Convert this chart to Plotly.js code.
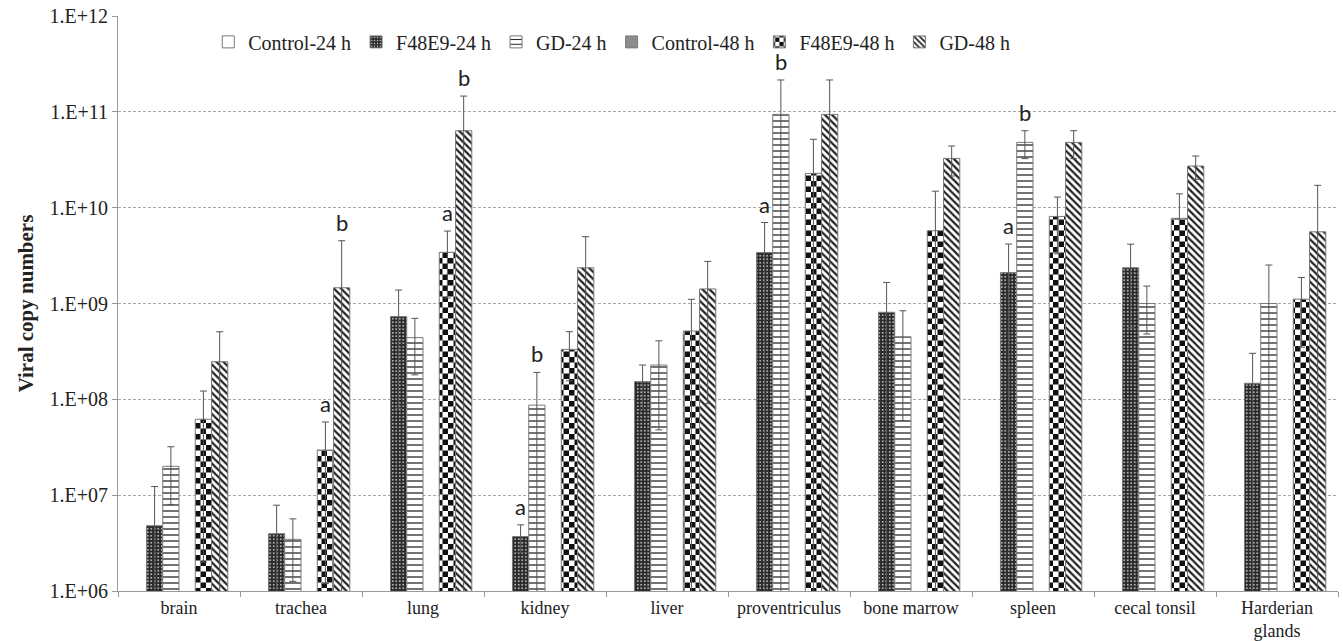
<!DOCTYPE html>
<html><head><meta charset="utf-8">
<script src="https://cdn.plot.ly/plotly-3.0.1.min.js"></script>
<style>html,body{margin:0;padding:0;background:#fff}#chart{width:1343px;height:641px}</style>
</head><body><div id="chart"></div>
<script>
var categories = ['brain','trachea','lung','kidney','liver','proventriculus','bone marrow','spleen','cecal tonsil','Harderian<br>glands'];
var seriesNames = ['Control-24 h','F48E9-24 h','GD-24 h','Control-48 h','F48E9-48 h','GD-48 h'];

var control24 = [null,null,null,null,null,null,null,null,null,null];
var control24Err = [0,0,0,0,0,0,0,0,0,0];
var f48e9_24 = [4.8e6, 3.96e6, 7.3e8, 3.7e6, 1.53e8, 3.4e9, 8.1e8, 2.1e9, 2.36e9, 1.47e8];
var f48e9_24Err = [7.5e6, 3.9e6, 6.5e8, 1.2e6, 7.5e7, 3.6e9, 8.5e8, 2.07e9, 1.8e9, 1.55e8];
var gd24 = [2.0e7, 3.46e6, 4.4e8, 8.7e7, 2.28e8, 9.4e10, 4.5e8, 4.8e10, 1.0e9, 1.0e9];
var gd24Err = [1.2e7, 2.2e6, 2.6e8, 1.04e8, 1.8e8, 1.21e11, 3.9e8, 1.55e10, 5.2e8, 1.52e9];
var control48 = [null,null,null,null,null,null,null,null,null,null];
var control48Err = [0,0,0,0,0,0,0,0,0,0];
var f48e9_48 = [6.2e7, 2.96e7, 3.42e9, 3.32e8, 5.16e8, 2.28e10, 5.75e9, 8.1e9, 7.74e9, 1.11e9];
var f48e9_48Err = [6.0e7, 2.84e7, 2.28e9, 1.76e8, 5.9e8, 2.89e10, 9.1e9, 4.8e9, 6.2e9, 7.6e8];
var gd48 = [2.47e8, 1.46e9, 6.35e10, 2.36e9, 1.42e9, 9.4e10, 3.27e10, 4.8e10, 2.72e10, 5.6e9];
var gd48Err = [2.6e8, 3.06e9, 8.25e10, 2.62e9, 1.33e9, 1.21e11, 1.13e10, 1.55e10, 7.4e9, 1.15e10];

var control24Letters = ['','','','','','','','','',''];
var f48e9_24Letters = ['','','','a','','a','','a','',''];
var gd24Letters = ['','','','b','','b','','b','',''];
var control48Letters = ['','','','','','','','','',''];
var f48e9_48Letters = ['','a','a','','','','','','',''];
var gd48Letters = ['','b','b','','','','','','',''];

var yTickVals = [1e6, 1e7, 1e8, 1e9, 1e10, 1e11, 1e12];
var yTickText = ['1.E+06','1.E+07','1.E+08','1.E+09','1.E+10','1.E+11','1.E+12'];

var values = [control24, f48e9_24, gd24, control48, f48e9_48, gd48];
var errors = [control24Err, f48e9_24Err, gd24Err, control48Err, f48e9_48Err, gd48Err];
var letters = [control24Letters, f48e9_24Letters, gd24Letters, control48Letters, f48e9_48Letters, gd48Letters];

var SERIF = 'Liberation Serif, Times New Roman, serif';
var patterns = [
  {shape:'', fillmode:'replace'},
  {shape:'.', size:3.5, solidity:0.18, bgcolor:'#2a2a2a', fgcolor:'#e0e0e0', fillmode:'replace'},
  {shape:'-', size:6, solidity:0.22, bgcolor:'#ffffff', fgcolor:'#2a2a2a', fillmode:'replace'},
  {shape:'', fillmode:'replace'},
  {shape:'+', size:10, solidity:0.5, bgcolor:'#ffffff', fgcolor:'#111111', fillmode:'replace'},
  {shape:'\\', size:5, solidity:0.45, bgcolor:'#ffffff', fgcolor:'#222222', fillmode:'replace'}
];
var colors = ['#ffffff', '#2a2a2a', '#ffffff', '#8c8c8c', '#ffffff', '#ffffff'];
var uids = ['c24','f24','g24','c48','chk48','g48'];

var BARGAP = 0.2;
var data = [];
for (var s = 0; s < 6; s++) {
  data.push({
    type:'bar', name: seriesNames[s], uid: uids[s],
    x: categories, y: values[s],
    marker:{color: colors[s], pattern: patterns[s], line:{color:'#7a7a7a', width:1}},
    error_y:{type:'data', array: errors[s], symmetric:true, visible:true, color:'#555', thickness:1, width:3.5},
    hoverinfo:'x+y+name'
  });
}

var annotations = [];
var barW = (1 - BARGAP) / 6;
for (var s2 = 0; s2 < 6; s2++) {
  for (var i = 0; i < categories.length; i++) {
    if (letters[s2][i]) {
      annotations.push({
        xref:'x', yref:'y',
        x: i + (s2 - 2.5) * barW,
        y: Math.log10(values[s2][i] + errors[s2][i]),
        text: letters[s2][i], showarrow:false, yanchor:'bottom', yshift:3,
        font:{family:'Lato, Open Sans, sans-serif', size:22, color:'#222'}
      });
    }
  }
}

var layout = {
  width:1343, height:641,
  margin:{l:118, r:5, t:16, b:50},
  paper_bgcolor:'#fff', plot_bgcolor:'#fff',
  font:{family:SERIF, size:20, color:'#222'},
  barmode:'group', bargap: BARGAP, bargroupgap:0,
  showlegend:true,
  legend:{orientation:'h', x:0.074, xanchor:'left', y:0.955, yanchor:'middle',
          bgcolor:'rgba(0,0,0,0)', font:{family:SERIF, size:20, color:'#222'}, traceorder:'normal'},
  xaxis:{type:'category', tickson:'boundaries', ticks:'outside', ticklen:5, tickcolor:'#999',
         showline:true, linecolor:'#999', linewidth:1, showgrid:false,
         tickfont:{family:SERIF, size:18, color:'#222'}, automargin:false},
  yaxis:{type:'log', range:[6,12], tickvals: yTickVals, ticktext: yTickText,
         ticks:'outside', ticklen:5, tickcolor:'#999', showline:true, linecolor:'#999', linewidth:1,
         showgrid:true, gridcolor:'#a8a8a8', griddash:'3px,2px', gridwidth:1,
         tickfont:{family:SERIF, size:20, color:'#222'}, automargin:false,
         title:{text:'<b>Viral copy numbers</b>', font:{family:SERIF, size:21, color:'#222'}, standoff:10}},
  annotations: annotations
};

var gd = document.getElementById('chart');
Plotly.newPlot(gd, data, layout, {displayModeBar:false, staticPlot:true}).then(function(){
  var pats = gd.querySelectorAll('pattern');
  var ns = 'http://www.w3.org/2000/svg';
  for (var k = 0; k < pats.length; k++) {
    var p = pats[k];
    if (p.id.indexOf('chk48') >= 0) {
      var sz = 11, h = sz/2;
      p.setAttribute('width', sz); p.setAttribute('height', sz);
      while (p.firstChild) p.removeChild(p.firstChild);
      var r0 = document.createElementNS(ns,'rect');
      r0.setAttribute('x',0); r0.setAttribute('y',0); r0.setAttribute('width',sz); r0.setAttribute('height',sz); r0.setAttribute('fill','#ffffff');
      p.appendChild(r0);
      var r1 = document.createElementNS(ns,'rect');
      r1.setAttribute('x',0); r1.setAttribute('y',0); r1.setAttribute('width',h); r1.setAttribute('height',h); r1.setAttribute('fill','#111');
      p.appendChild(r1);
      var r2 = document.createElementNS(ns,'rect');
      r2.setAttribute('x',h); r2.setAttribute('y',h); r2.setAttribute('width',h); r2.setAttribute('height',h); r2.setAttribute('fill','#111');
      p.appendChild(r2);
    }
  }
});
</script>
</body></html>
